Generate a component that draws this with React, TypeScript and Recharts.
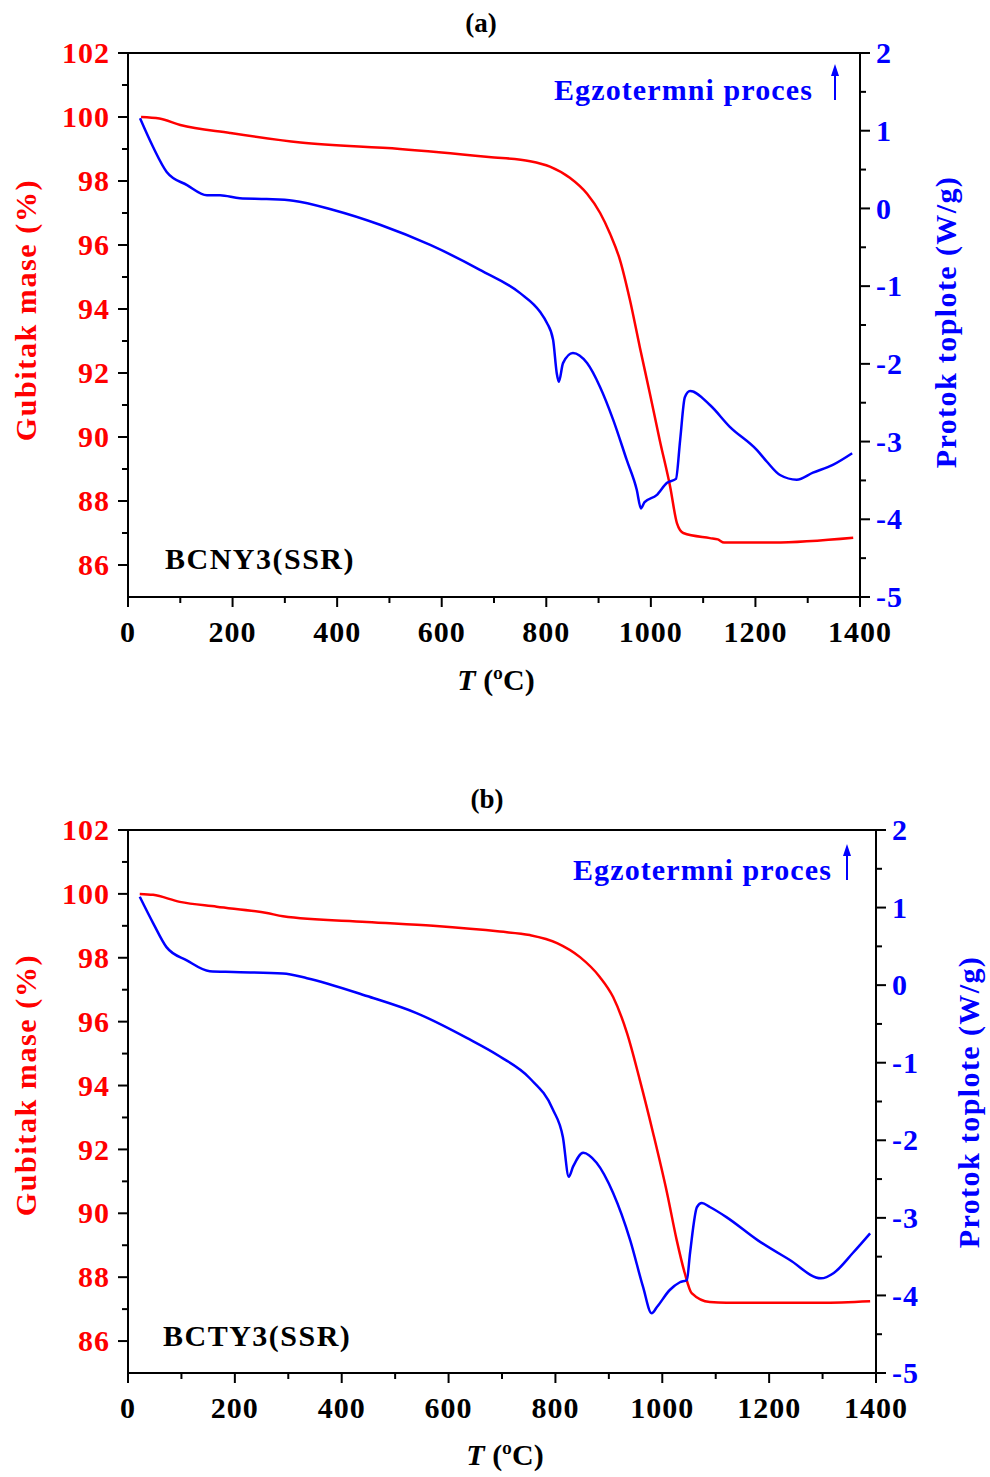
import { LineChart, Line, XAxis, YAxis, ReferenceLine } from "recharts"

const RED = "#ff0000"
const BLUE = "#0000ff"
const FONT = '"Liberation Serif", "Times New Roman", serif'

// tick values (major + minor)
const massTicks = [86, 87, 88, 89, 90, 91, 92, 93, 94, 95, 96, 97, 98, 99, 100, 101, 102]
const dscTicks = [-5, -4.5, -4, -3.5, -3, -2.5, -2, -1.5, -1, -0.5, 0, 0.5, 1, 1.5, 2]
const tempTicks = [0, 100, 200, 300, 400, 500, 600, 700, 800, 900, 1000, 1100, 1200, 1300, 1400]

// (a) BCNY3(SSR)
const massTempA = [25, 60, 100, 195, 330, 520, 690, 769, 807, 845, 878, 903, 922, 941, 960, 979, 998, 1017, 1037, 1050, 1062, 1113, 1128, 1140, 1235, 1387]
const massA = [100, 99.95, 99.75, 99.5, 99.2, 99.0, 98.75, 98.62, 98.45, 98.1, 97.6, 97.0, 96.35, 95.53, 94.28, 92.8, 91.37, 89.9, 88.44, 87.3, 87.0, 86.84, 86.8, 86.7, 86.7, 86.85]
const dscTempA = [23, 48, 74, 113, 151, 176, 214, 265, 316, 393, 482, 578, 673, 750, 788, 801, 813, 820, 824, 832, 851, 878, 903, 928, 954, 973, 981, 988, 1011, 1031, 1048, 1056, 1065, 1075, 1113, 1151, 1203, 1222, 1247, 1279, 1310, 1348, 1385]
const dscA = [1.16, 0.79, 0.47, 0.3, 0.17, 0.17, 0.13, 0.12, 0.1, -0.02, -0.21, -0.47, -0.79, -1.09, -1.33, -1.47, -1.69, -2.12, -2.23, -1.99, -1.86, -1.99, -2.3, -2.72, -3.24, -3.62, -3.86, -3.78, -3.69, -3.53, -3.48, -2.98, -2.43, -2.35, -2.53, -2.81, -3.11, -3.26, -3.43, -3.49, -3.4, -3.3, -3.15]

// (b) BCTY3(SSR)
const massTempB = [22, 47, 97, 166, 260, 290, 447, 571, 696, 752, 803, 846, 883, 908, 934, 958, 983, 1009, 1027, 1042, 1055, 1089, 1120, 1203, 1297, 1389]
const massB = [100, 99.97, 99.75, 99.6, 99.4, 99.3, 99.12, 99.0, 98.82, 98.71, 98.46, 98.02, 97.4, 96.77, 95.64, 94.17, 92.5, 90.63, 89.16, 88.13, 87.5, 87.22, 87.2, 87.2, 87.2, 87.25]
const dscTempB = [22, 47, 72, 110, 153, 197, 290, 335, 447, 540, 634, 696, 752, 795, 814, 825, 833, 852, 877, 908, 940, 964, 980, 990, 1014, 1033, 1046, 1052, 1065, 1074, 1089, 1120, 1179, 1238, 1297, 1321, 1357, 1389]
const dscB = [1.14, 0.8, 0.49, 0.32, 0.18, 0.17, 0.15, 0.09, -0.14, -0.36, -0.68, -0.92, -1.2, -1.6, -1.96, -2.47, -2.34, -2.16, -2.29, -2.68, -3.29, -3.89, -4.23, -4.15, -3.93, -3.83, -3.8, -3.45, -2.86, -2.81, -2.86, -2.99, -3.29, -3.54, -3.78, -3.71, -3.45, -3.2]

const zip = (t: number[], v: number[]) => t.map((x, i) => ({ t: x, v: v[i] }))

const tickText = { fontSize: 30, fontWeight: "bold", fontFamily: FONT, letterSpacing: 1 }

function MassTick({ x, y, payload }: any) {
  const major = payload.value % 2 === 0
  return (
    <g>
      <line x1={x} x2={x - (major ? 10 : 6)} y1={y} y2={y} stroke="#000" strokeWidth={2} />
      {major && (
        <text x={x - 18} y={y} dy="0.34em" textAnchor="end" fill={RED} {...tickText}>
          {payload.value}
        </text>
      )}
    </g>
  )
}

function DscTick({ x, y, payload }: any) {
  const major = Number.isInteger(payload.value)
  return (
    <g>
      <line x1={x} x2={x + (major ? 10 : 6)} y1={y} y2={y} stroke="#000" strokeWidth={2} />
      {major && (
        <text x={x + 16} y={y} dy="0.34em" textAnchor="start" fill={BLUE} {...tickText}>
          {payload.value}
        </text>
      )}
    </g>
  )
}

function TempTick({ x, y, payload }: any) {
  const major = payload.value % 200 === 0
  return (
    <g>
      <line x1={x} x2={x} y1={y} y2={y + (major ? 10 : 6)} stroke="#000" strokeWidth={2} />
      {major && (
        <text x={x} y={y + 45} textAnchor="middle" fill="#000" {...tickText}>
          {payload.value}
        </text>
      )}
    </g>
  )
}

interface PanelProps {
  top: number
  height: number
  plotTop: number
  plotBottom: number
  rightWidth: number
  title: string
  sample: string
  mass: { t: number; v: number }[]
  dsc: { t: number; v: number }[]
  pos: {
    titleX: number; titleY: number
    exoX: number; exoY: number; arrowX: number
    sampleX: number; sampleY: number
    leftY: number; rightX: number; rightY: number
    xLabelX: number; xLabelY: number
  }
}

function Panel({ top, height, plotTop, plotBottom, rightWidth, title, sample, mass, dsc, pos }: PanelProps) {
  const label = { fontSize: 30, fontWeight: "bold", fontFamily: FONT }
  return (
    <div style={{ position: "absolute", left: 0, top, width: 990, height }}>
      <LineChart width={990} height={height} data={mass} margin={{ top: plotTop, right: 0, bottom: 0, left: 0 }}>
        <XAxis
          dataKey="t"
          type="number"
          domain={[0, 1400]}
          ticks={tempTicks}
          interval={0}
          height={height - plotBottom}
          tickSize={0}
          tickMargin={0}
          tickLine={false}
          tick={<TempTick />}
          axisLine={{ stroke: "#000", strokeWidth: 2 }}
        />
        <YAxis
          yAxisId="mass"
          orientation="left"
          type="number"
          domain={[85, 102]}
          ticks={massTicks}
          interval={0}
          width={128}
          tickSize={0}
          tickMargin={0}
          tickLine={false}
          tick={<MassTick />}
          axisLine={{ stroke: "#000", strokeWidth: 2 }}
        />
        <YAxis
          yAxisId="dsc"
          orientation="right"
          type="number"
          domain={[-5, 2]}
          ticks={dscTicks}
          interval={0}
          width={rightWidth}
          tickSize={0}
          tickMargin={0}
          tickLine={false}
          tick={<DscTick />}
          axisLine={{ stroke: "#000", strokeWidth: 2 }}
        />
        <ReferenceLine yAxisId="mass" y={102} stroke="#000" strokeWidth={2} />
        <Line
          yAxisId="mass"
          data={mass}
          dataKey="v"
          type="monotone"
          stroke={RED}
          strokeWidth={2.5}
          dot={false}
          isAnimationActive={false}
        />
        <Line
          yAxisId="dsc"
          data={dsc}
          dataKey="v"
          type="monotone"
          stroke={BLUE}
          strokeWidth={2.5}
          dot={false}
          isAnimationActive={false}
        />
      </LineChart>
      <svg
        width={990}
        height={height}
        style={{ position: "absolute", left: 0, top: 0, pointerEvents: "none" }}
      >
        <text x={pos.titleX} y={pos.titleY} textAnchor="middle" fontSize={27} fontWeight="bold" fontFamily={FONT} fill="#000">
          {title}
        </text>
        <text x={pos.exoX} y={pos.exoY} fill={BLUE} letterSpacing={1.1} {...label}>
          Egzotermni proces
        </text>
        <line x1={pos.arrowX} x2={pos.arrowX} y1={pos.exoY} y2={pos.exoY - 26} stroke={BLUE} strokeWidth={2} />
        <polygon
          points={`${pos.arrowX - 4},${pos.exoY - 24} ${pos.arrowX + 4},${pos.exoY - 24} ${pos.arrowX},${pos.exoY - 36}`}
          fill={BLUE}
        />
        <text x={pos.sampleX} y={pos.sampleY} fill="#000" letterSpacing={1.5} {...label}>
          {sample}
        </text>
        <text
          x={25}
          y={pos.leftY}
          transform={`rotate(-90 25 ${pos.leftY})`}
          textAnchor="middle"
          dominantBaseline="central"
          fill={RED}
          letterSpacing={1.6}
          {...label}
        >
          Gubitak mase (%)
        </text>
        <text
          x={pos.rightX}
          y={pos.rightY}
          transform={`rotate(-90 ${pos.rightX} ${pos.rightY})`}
          textAnchor="middle"
          dominantBaseline="central"
          fill={BLUE}
          letterSpacing={1.4}
          {...label}
        >
          Protok toplote (W/g)
        </text>
        <text x={pos.xLabelX} y={pos.xLabelY} textAnchor="middle" fill="#000" {...label}>
          <tspan fontStyle="italic">T</tspan> (ºC)
        </text>
      </svg>
    </div>
  )
}

export default function App() {
  return (
    <div style={{ position: "absolute", left: 0, top: 0, width: 990, height: 1477, background: "#fff" }}>
      <Panel
        top={0}
        height={720}
        plotTop={53}
        plotBottom={597}
        rightWidth={130}
        title="(a)"
        sample="BCNY3(SSR)"
        mass={zip(massTempA, massA)}
        dsc={zip(dscTempA, dscA)}
        pos={{
          titleX: 481, titleY: 32,
          exoX: 554, exoY: 100, arrowX: 835,
          sampleX: 165, sampleY: 569,
          leftY: 310, rightX: 945, rightY: 322,
          xLabelX: 496, xLabelY: 690,
        }}
      />
      <Panel
        top={760}
        height={717}
        plotTop={70}
        plotBottom={613}
        rightWidth={114}
        title="(b)"
        sample="BCTY3(SSR)"
        mass={zip(massTempB, massB)}
        dsc={zip(dscTempB, dscB)}
        pos={{
          titleX: 487, titleY: 48,
          exoX: 573, exoY: 120, arrowX: 847,
          sampleX: 163, sampleY: 586,
          leftY: 325, rightX: 968, rightY: 342,
          xLabelX: 505, xLabelY: 705,
        }}
      />
    </div>
  )
}
